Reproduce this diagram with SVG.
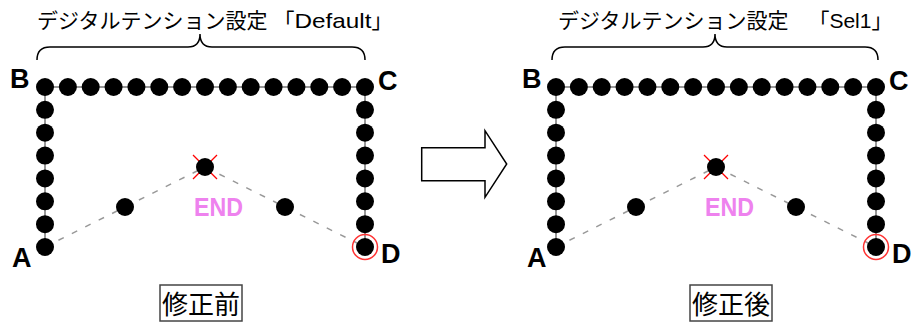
<svg xmlns="http://www.w3.org/2000/svg" xmlns:xlink="http://www.w3.org/1999/xlink" width="912" height="322" viewBox="0 0 912 322">
<style>
.title{font-family:"Liberation Sans","Noto Sans CJK JP",sans-serif;font-size:21px;fill:#000}
.lbl{font-family:"Liberation Sans",Arial,sans-serif;font-size:27px;font-weight:bold;fill:#000}
.end{font-family:"Liberation Sans",Arial,sans-serif;font-size:26px;font-weight:bold;fill:#ee82ee}
.cap{font-family:"Noto Sans CJK JP",sans-serif;font-size:26px;fill:#000;text-anchor:middle}
.box{fill:none;stroke:#444;stroke-width:1.5}
.brace{fill:none;stroke:#000;stroke-width:1.5}
.wire{fill:none;stroke:#777;stroke-width:1.5}
.dash{fill:none;stroke:#999;stroke-width:1.5;stroke-dasharray:6 9}
.mark{stroke:#f00;stroke-width:1.2}
.ring{fill:none;stroke:#f33;stroke-width:1.5}
.arrow{fill:#fff;stroke:#000;stroke-width:1.5;stroke-linejoin:miter}
</style>
<defs>
<circle id="dot" r="9" fill="#000"/>
<g id="frame">
<polyline class="wire" points="45,247 45,87 365,87 365,247"/>
<use xlink:href="#dot" x="45" y="87"/><use xlink:href="#dot" x="67.86" y="87"/><use xlink:href="#dot" x="90.71" y="87"/><use xlink:href="#dot" x="113.57" y="87"/><use xlink:href="#dot" x="136.43" y="87"/><use xlink:href="#dot" x="159.29" y="87"/><use xlink:href="#dot" x="182.14" y="87"/><use xlink:href="#dot" x="205" y="87"/><use xlink:href="#dot" x="227.86" y="87"/><use xlink:href="#dot" x="250.71" y="87"/><use xlink:href="#dot" x="273.57" y="87"/><use xlink:href="#dot" x="296.43" y="87"/><use xlink:href="#dot" x="319.29" y="87"/><use xlink:href="#dot" x="342.14" y="87"/><use xlink:href="#dot" x="365" y="87"/>
<use xlink:href="#dot" x="45" y="109.86"/><use xlink:href="#dot" x="45" y="132.71"/><use xlink:href="#dot" x="45" y="155.57"/><use xlink:href="#dot" x="45" y="178.43"/><use xlink:href="#dot" x="45" y="201.29"/><use xlink:href="#dot" x="45" y="224.14"/><use xlink:href="#dot" x="45" y="247"/>
<use xlink:href="#dot" x="365" y="109.86"/><use xlink:href="#dot" x="365" y="132.71"/><use xlink:href="#dot" x="365" y="155.57"/><use xlink:href="#dot" x="365" y="178.43"/><use xlink:href="#dot" x="365" y="201.29"/><use xlink:href="#dot" x="365" y="224.14"/><use xlink:href="#dot" x="365" y="247"/>
</g>
</defs>
<rect width="912" height="322" fill="#fff"/>

<!-- Left panel: before -->
<g id="title-left">
<text class="title" x="37" y="28">デジタルテンション設定 「<tspan textLength="77" lengthAdjust="spacingAndGlyphs">Default</tspan>」</text>
<path class="brace" d="M37,60 Q37,47 50,47 L188,47 Q200,47 200,34 Q200,47 212,47 L352,47 Q365,47 365,60"/>
</g>
<g id="connectors-left">
<polyline class="dash" points="45,247 125,207 205,167 285,207 365,247"/>
</g>
<g id="frame-left"><use xlink:href="#frame"/></g>
<g id="node-A-left"><text class="lbl" x="12" y="267">A</text></g>
<g id="node-B-left"><text class="lbl" x="10" y="88">B</text></g>
<g id="node-C-left"><text class="lbl" x="378" y="90">C</text></g>
<g id="node-D-left"><circle class="ring" cx="365" cy="247" r="12.5"/><text class="lbl" x="381" y="263">D</text></g>
<g id="node-mid1-left"><use xlink:href="#dot" x="125" y="207"/></g>
<g id="node-end-left">
<line class="mark" x1="193" y1="155" x2="217" y2="179"/><line class="mark" x1="217" y1="155" x2="193" y2="179"/>
<use xlink:href="#dot" x="205" y="167"/>
<text class="end" x="194" y="216" textLength="49" lengthAdjust="spacingAndGlyphs">END</text>
</g>
<g id="node-mid2-left"><use xlink:href="#dot" x="285" y="207"/></g>
<g id="caption-left"><rect class="box" x="160" y="285" width="82" height="36"/><text class="cap" x="201" y="314">修正前</text></g>

<!-- Arrow -->
<g id="arrow"><polygon class="arrow" points="421.7,147.7 485,147.7 485,130.7 506.7,164 485,197.3 485,180.7 421.7,180.7"/></g>

<!-- Right panel: after -->
<g id="title-right">
<text class="title" x="558" y="28">デジタルテンション設定 <tspan dx="14">「Sel1」</tspan></text>
<path class="brace" d="M552,60 Q552,47 565,47 L703,47 Q715,47 715,34 Q715,47 727,47 L865,47 Q878,47 878,60"/>
</g>
<g id="connectors-right" transform="translate(511,0)">
<polyline class="dash" points="45,247 125,207 205,167 285,207 365,247"/>
</g>
<g id="frame-right" transform="translate(511,0)"><use xlink:href="#frame"/></g>
<g id="node-A-right"><text class="lbl" x="527" y="267">A</text></g>
<g id="node-B-right"><text class="lbl" x="522" y="88">B</text></g>
<g id="node-C-right"><text class="lbl" x="889" y="90">C</text></g>
<g id="node-D-right"><circle class="ring" cx="876" cy="247" r="12.5"/><text class="lbl" x="892" y="263">D</text></g>
<g id="node-mid1-right"><use xlink:href="#dot" x="636" y="207"/></g>
<g id="node-end-right">
<line class="mark" x1="704" y1="155" x2="728" y2="179"/><line class="mark" x1="728" y1="155" x2="704" y2="179"/>
<use xlink:href="#dot" x="716" y="167"/>
<text class="end" x="705" y="216" textLength="49" lengthAdjust="spacingAndGlyphs">END</text>
</g>
<g id="node-mid2-right"><use xlink:href="#dot" x="796" y="207"/></g>
<g id="caption-right"><rect class="box" x="690" y="285" width="82" height="36"/><text class="cap" x="731" y="314">修正後</text></g>
</svg>
